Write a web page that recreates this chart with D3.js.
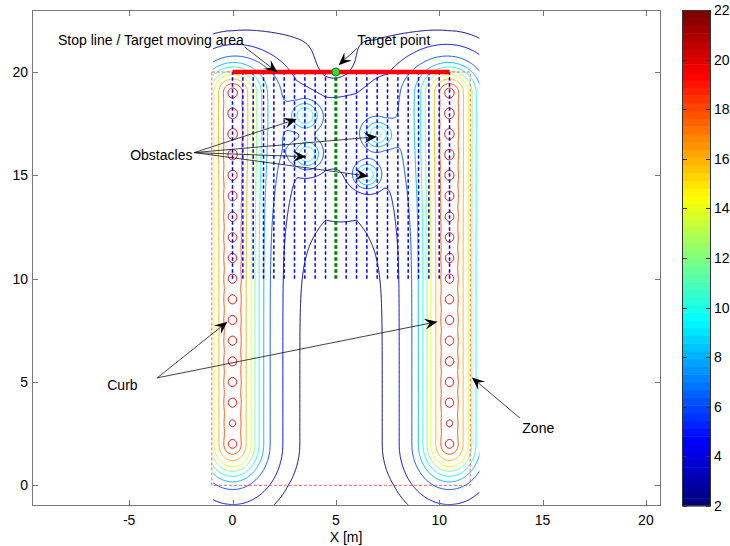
<!DOCTYPE html>
<html>
<head>
<meta charset="utf-8">
<script src="https://cdn.jsdelivr.net/npm/d3@7"></script>
<style>
  body { margin: 0; background: #fff; }
  svg text { font-family: "Liberation Sans", Arial, Helvetica, sans-serif; font-size: 14px; fill: #000; }
</style>
</head>
<body>
<svg id="chart" width="730" height="546"></svg>
<script>
// ---- data ----
const xTicks = [-5, 0, 5, 10, 15, 20];
const yTicks = [0, 5, 10, 15, 20];
const colorTicks = [2, 4, 6, 8, 10, 12, 14, 16, 18, 20, 22];
const contourLevels = [2, 4, 6, 8, 10, 12, 14, 16, 18, 20];

// curbs (two rows of repulsive points)
const curbX = [0, 10.5];
const curbY = [2, 3, 4, 5, 6, 7, 8, 9, 10, 11, 12, 13, 14, 15, 16, 17, 18, 19];
const curbStrength = [1, 0.7, 1, 1, 1, 1, 1, 1, 1, 1, 1, 1, 1, 1, 1, 1, 1, 1];
// potential of one curb vs distance (where each level sits)
const curbProfileDist = [0, 0.2, 0.37, 0.65, 0.9, 1.08, 1.28, 1.5, 1.8, 2.4, 3.15, 4.5, 6, 8, 11];
const curbProfileValue = [18.7, 18.55, 18, 16, 14, 12, 10, 8, 6, 4, 1.9, 0.7, 0.35, 0.1, 0];

// obstacles
const obstacleX = [3.5, 3.6, 7.05, 6.5];
const obstacleY = [17.9, 16.0, 16.95, 15.0];
const obstacleStrength = [7.2, 7.6, 7.4, 7.8];

// lanes / stop line / target / zone
const laneX = [0, 0.5, 1, 1.5, 2, 2.5, 3, 3.5, 4, 4.5, 5, 5.5, 6, 6.5, 7, 7.5, 8, 8.5, 9, 9.5, 10, 10.5];
const laneY = [10, 20];
const stopLineX = [0, 10.5];
const stopLineY = 20;
const target = [5, 20];
const zoneX = [-1, 11.5];
const zoneY = [0, 20];

const annotations = [
  { label: "Stop line / Target moving area", x: -8.44, y: 21.3 },
  { label: "Target point", x: 6.03, y: 21.3 },
  { label: "Obstacles", x: -4.95, y: 15.74 },
  { label: "Curb", x: -6.06, y: 4.62 },
  { label: "Zone", x: 14.02, y: 2.53 }
];
const arrowFrom = [[0.6, 21.2], [6.02, 21.14], [-1.85, 16.1], [-1.85, 16.1], [-1.85, 16.1], [-1.85, 16.1], [-3.64, 5.2], [-3.64, 5.2], [13.9, 3.26]];
const arrowTo = [[2.18, 19.98], [5.13, 20.33], [3.11, 17.72], [6.99, 16.87], [3.57, 15.9], [6.58, 14.96], [-0.24, 7.92], [9.92, 7.92], [11.58, 5.22]];

// ---- layout ----
const svg = d3.select("#chart");
const x = d3.scaleLinear().domain([-9.7, 20.73]).range([32, 661]);
const y = d3.scaleLinear().domain([-1, 23]).range([506, 10]);
const cScale = d3.scaleLinear().domain([2, 22]).range([506, 10]);

const jet = t => {
  const c = v => Math.round(255 * Math.max(0, Math.min(1, v)));
  const r = Math.min(4 * t - 1.5, -4 * t + 4.5);
  const g = Math.min(4 * t - 0.5, -4 * t + 3.5);
  const b = Math.min(4 * t + 0.5, -4 * t + 2.5);
  return `rgb(${c(r)},${c(g)},${c(b)})`;
};
const levelColor = v => jet((v - 2) / 20);

// ---- potential field on a grid ----
const profile = d3.scaleLinear().domain(curbProfileDist).range(curbProfileValue).clamp(true);
const curbDistance = (px, py, cx) => {
  const lo = curbY[0], hi = curbY[curbY.length - 1];
  const dy = py < lo ? (lo - py) * 0.82 : py > hi ? (py - hi) * 1.05 : 0;
  return Math.hypot(px - cx, dy);
};

function field(px, py) {
  let v = 0;
  curbX.forEach(cx => {
    v += profile(curbDistance(px, py, cx));
    const dx2 = (px - cx) * (px - cx);
    if (dx2 < 1) {
      curbY.forEach((cy, k) => {
        const r2 = dx2 + (py - cy) * (py - cy);
        if (r2 < 2) v += curbStrength[k] * (2.4 * Math.exp(-r2 / 0.0338) + 0.9 * Math.exp(-r2 / 0.18));
      });
    }
  });
  // raised moving area between the curbs
  const sy = py > 18 ? 2.5 : 3;
  v += 4.4 * Math.exp(-((px - 5.25) ** 2) / (2 * 2.3 * 2.3) - ((py - 18) ** 2) / (2 * sy * sy));
  obstacleX.forEach((ox, k) => {
    const r2 = (px - ox) ** 2 + (py - obstacleY[k]) ** 2;
    v += obstacleStrength[k] * Math.exp(-r2 / (2 * 0.45 * 0.45));
  });
  // attraction of the target
  v -= 2.6 * Math.exp(-((px - target[0]) ** 2 + (py - target[1]) ** 2) / 2);
  return v;
}

const gx0 = -1, gx1 = 12, gy0 = -1, gy1 = 23, step = 0.04;
const nx = Math.round((gx1 - gx0) / step) + 3;
const ny = Math.round((gy1 - gy0) / step) + 3;
const values = new Float64Array(nx * ny);
for (let j = 0; j < ny; j++) {
  for (let i = 0; i < nx; i++) {
    const pad = i === 0 || j === 0 || i === nx - 1 || j === ny - 1;
    values[j * nx + i] = pad ? -1000 : field(gx0 + (i - 1) * step, gy0 + (j - 1) * step);
  }
}
const contours = d3.contours().size([nx, ny]).thresholds(contourLevels)(values);
const gridToPx = d3.geoTransform({
  point(gx, gy) {
    this.stream.point(x(gx0 + (gx - 1.5) * step), y(gy0 + (gy - 1.5) * step));
  }
});
const contourPath = d3.geoPath(gridToPx);

// clip a little inside the grid so the closing edges of the rings are hidden
svg.append("clipPath").attr("id", "fieldClip")
  .append("rect")
  .attr("x", x(gx0) + 1.2).attr("y", y(gy1) + 1.2)
  .attr("width", x(gx1) - x(gx0) - 2.4).attr("height", y(gy0) - y(gy1) - 2.4);

svg.append("g").attr("clip-path", "url(#fieldClip)")
  .selectAll("path").data(contours).join("path")
  .attr("d", contourPath)
  .attr("fill", "none")
  .attr("stroke", d => levelColor(d.value))
  .attr("stroke-width", 1);

// lanes
svg.append("g").selectAll("line").data(laneX).join("line")
  .attr("x1", d => x(d)).attr("x2", d => x(d))
  .attr("y1", y(laneY[0])).attr("y2", y(laneY[1]))
  .attr("stroke", d => d === target[0] ? "#008000" : "#0000ff")
  .attr("stroke-width", d => d === target[0] ? 3 : 1.5)
  .attr("stroke-dasharray", "3.5,2.5");

// zone
svg.append("rect")
  .attr("x", x(zoneX[0])).attr("y", y(zoneY[1]))
  .attr("width", x(zoneX[1]) - x(zoneX[0])).attr("height", y(zoneY[0]) - y(zoneY[1]))
  .attr("fill", "none").attr("stroke", "#ff2020").attr("stroke-opacity", 0.8)
  .attr("stroke-width", 0.9).attr("stroke-dasharray", "3,2");

// stop line and target point
svg.append("line")
  .attr("x1", x(stopLineX[0])).attr("x2", x(stopLineX[1]))
  .attr("y1", y(stopLineY)).attr("y2", y(stopLineY))
  .attr("stroke", "#ff0000").attr("stroke-width", 4.5);
svg.append("circle")
  .attr("cx", x(target[0])).attr("cy", y(target[1])).attr("r", 4)
  .attr("fill", "#33dd33").attr("stroke", "#117711").attr("stroke-width", 1);

// axes box and ticks
const axisColor = "#777";
svg.append("rect").attr("x", 32.5).attr("y", 10.5).attr("width", 628).attr("height", 495)
  .attr("fill", "none").attr("stroke", axisColor).attr("stroke-width", 1);
const ticks = svg.append("g").attr("stroke", axisColor).attr("stroke-width", 1);
xTicks.forEach(t => {
  const px = Math.round(x(t)) + 0.5;
  ticks.append("line").attr("x1", px).attr("x2", px).attr("y1", 505).attr("y2", 500);
  ticks.append("line").attr("x1", px).attr("x2", px).attr("y1", 11).attr("y2", 16);
});
yTicks.forEach(t => {
  const py = Math.round(y(t)) + 0.5;
  ticks.append("line").attr("x1", 33).attr("x2", 38).attr("y1", py).attr("y2", py);
  ticks.append("line").attr("x1", 660).attr("x2", 655).attr("y1", py).attr("y2", py);
});
svg.append("g").selectAll("text").data(xTicks).join("text")
  .attr("x", d => x(d)).attr("y", 525).attr("text-anchor", "middle").text(d => d);
svg.append("g").selectAll("text").data(yTicks).join("text")
  .attr("x", 28).attr("y", d => y(d)).attr("dy", "0.36em").attr("text-anchor", "end").text(d => d);
svg.append("text").attr("x", 346).attr("y", 542).attr("text-anchor", "middle").text("X [m]");

// colorbar
const nBands = 64;
svg.append("g").selectAll("rect").data(d3.range(nBands)).join("rect")
  .attr("x", 682).attr("width", 29)
  .attr("y", k => cScale(2 + 20 * (k + 1) / nBands))
  .attr("height", k => cScale(2 + 20 * k / nBands) - cScale(2 + 20 * (k + 1) / nBands) + 0.5)
  .attr("fill", k => jet(k / (nBands - 1)));
svg.append("rect").attr("x", 682.5).attr("y", 10.5).attr("width", 28).attr("height", 495)
  .attr("fill", "none").attr("stroke", "#333").attr("stroke-width", 1);
const cbTicks = svg.append("g").attr("stroke", "#333").attr("stroke-width", 1);
colorTicks.forEach(t => {
  const py = Math.round(cScale(t)) + 0.5;
  cbTicks.append("line").attr("x1", 683).attr("x2", 687).attr("y1", py).attr("y2", py);
  cbTicks.append("line").attr("x1", 710).attr("x2", 706).attr("y1", py).attr("y2", py);
});
svg.append("g").selectAll("text").data(colorTicks).join("text")
  .attr("x", 714).attr("y", d => cScale(d)).attr("dy", "0.36em").text(d => d);

// annotations
svg.append("g").selectAll("text").data(annotations).join("text")
  .attr("x", d => x(d.x)).attr("y", d => y(d.y)).text(d => d.label);

const arrows = svg.append("g");
arrowFrom.forEach((from, k) => {
  const to = arrowTo[k];
  const x1 = x(from[0]), y1 = y(from[1]), x2 = x(to[0]), y2 = y(to[1]);
  const a = Math.atan2(y2 - y1, x2 - x1);
  const L = 13, W = 5.5, N = 8;
  const pt = (back, side) => [x2 - back * Math.cos(a) - side * Math.sin(a), y2 - back * Math.sin(a) + side * Math.cos(a)];
  const notch = pt(N, 0);
  arrows.append("line").attr("x1", x1).attr("y1", y1).attr("x2", notch[0]).attr("y2", notch[1])
    .attr("stroke", "#111").attr("stroke-width", 0.8);
  arrows.append("path")
    .attr("d", "M" + [[x2, y2], pt(L, W), notch, pt(L, -W)].map(p => p.join(",")).join("L") + "Z")
    .attr("fill", "#000");
});
</script>
</body>
</html>
